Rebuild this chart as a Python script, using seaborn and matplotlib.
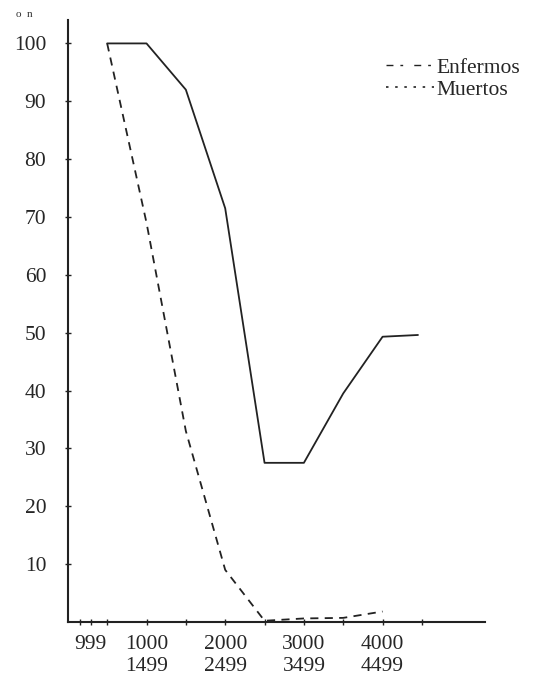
import pandas as pd
import seaborn as sns
import matplotlib.pyplot as plt
from matplotlib.lines import Line2D


# =========================
# 数据
# =========================

x_pos = [500, 1000, 1500, 2000, 2500, 3000, 3500, 4000, 4450]
enfermos = [100, 100, 92, 71.5, 27.5, 27.5, 39.5, 49.3, 49.6]

x_muertos = [500, 1000, 1500, 2000, 2500, 3000, 3500, 4000]
muertos = [100, 69, 33, 9, 0.2, 0.6, 0.7, 1.8]

tick_pos = [290, 1000, 2000, 3000, 4000]
tick_labels = ["999", "1000\n1499", "2000\n2499", "3000\n3499", "4000\n4499"]
minor_pos = [150, 500, 1500, 2500, 3500, 4500]
y_ticks = [10, 20, 30, 40, 50, 60, 70, 80, 90, 100]


# =========================
# 绘图
# =========================

sns.set_style("white")
plt.rcParams['font.family'] = ['Liberation Serif', 'DejaVu Serif']

fig = plt.figure(figsize=(5.34, 6.76), dpi=100)
ax = fig.add_axes([0.127, 0.080, 0.781, 0.890])

df_e = pd.DataFrame({"x": x_pos, "y": enfermos})
df_m = pd.DataFrame({"x": x_muertos, "y": muertos})

sns.lineplot(data=df_e, x="x", y="y", ax=ax, color="#222222", linewidth=1.3)
sns.lineplot(data=df_m, x="x", y="y", ax=ax, color="#222222", linewidth=1.3,
             linestyle=(0, (4.5, 3.5)))

ax.set_xlim(0, 5300)
ax.set_ylim(0, 104)

ax.set_xticks(tick_pos)
ax.set_xticklabels(tick_labels, fontsize=15.5)
ax.set_xticks(minor_pos, minor=True)
ax.set_yticks(y_ticks)
ax.set_yticklabels([str(v) for v in y_ticks], fontsize=15.5)

ax.tick_params(axis="x", which="both", bottom=True, direction="inout",
               length=5, width=1.0, pad=7, color="#222222")
ax.tick_params(axis="y", left=True, direction="inout", length=5, width=1.0,
               pad=13, color="#222222")

for s in ["top", "right"]:
    ax.spines[s].set_visible(False)
for s in ["left", "bottom"]:
    ax.spines[s].set_color("#222222")
    ax.spines[s].set_linewidth(1.5)

ax.set_xlabel("")
ax.set_ylabel("")

handles = [
    Line2D([], [], color="#222222", linewidth=1.0, linestyle=(0, (5, 5, 2, 8))),
    Line2D([], [], color="#222222", linewidth=1.2, linestyle=(0, (1.5, 4))),
]
ax.legend(handles, ["Enfermos", "Muertos"], loc="upper right",
          bbox_to_anchor=(1.13, 0.97), frameon=False, fontsize=15.5,
          handlelength=2.2, handletextpad=0.1, labelspacing=0.1)

fig.text(0.03, 0.975, "o  n", fontsize=8, color="#333333")

plt.savefig("out.png", dpi=100)
